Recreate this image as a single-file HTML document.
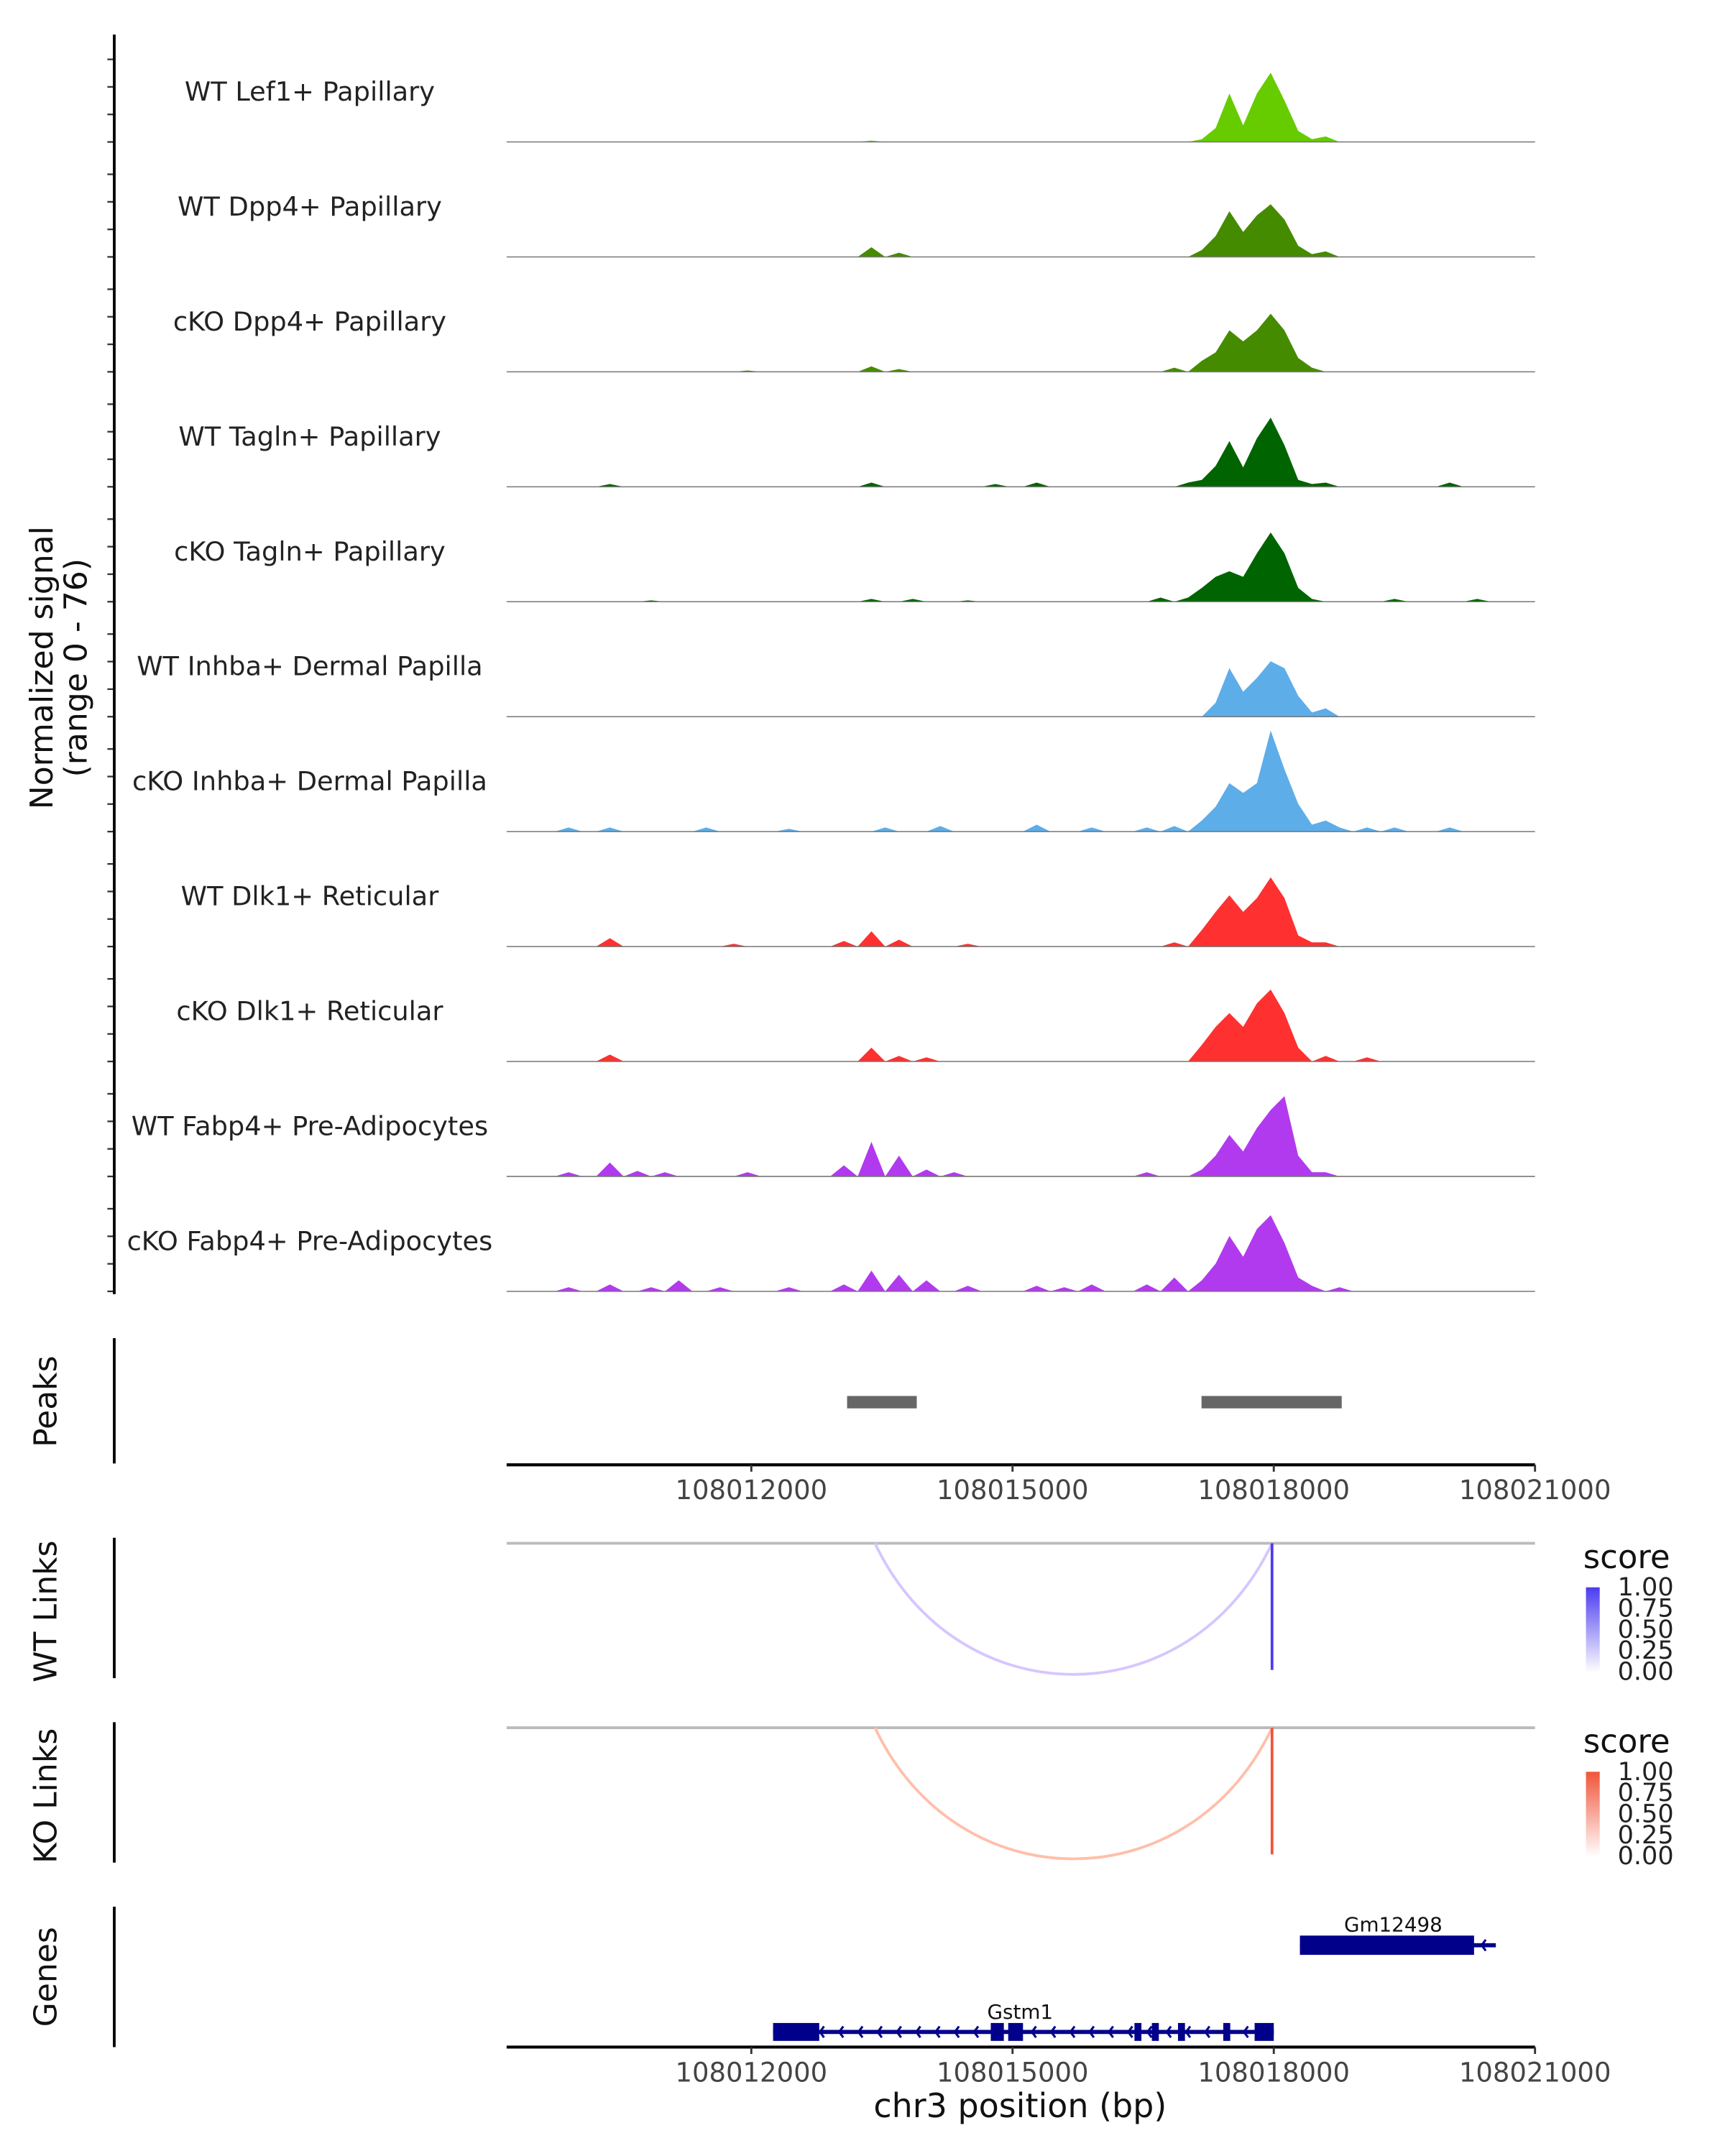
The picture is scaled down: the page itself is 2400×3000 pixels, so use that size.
<!DOCTYPE html>
<html><head><meta charset="utf-8"><style>
html,body{margin:0;padding:0;background:#fff}
svg{display:block}
text{font-family:"DejaVu Sans","Liberation Sans",sans-serif}
</style></head><body>
<svg id="chart" width="2400" height="3000" viewBox="0 0 1253 1566" xmlns="http://www.w3.org/2000/svg">
<g id="tracks"></g>
<g id="axes"></g>
</svg>
<script>
// ---- data ----
const trackNames = ["WT Lef1+ Papillary","WT Dpp4+ Papillary","cKO Dpp4+ Papillary","WT Tagln+ Papillary","cKO Tagln+ Papillary","WT Inhba+ Dermal Papilla","cKO Inhba+ Dermal Papilla","WT Dlk1+ Reticular","cKO Dlk1+ Reticular","WT Fabp4+ Pre-Adipocytes","cKO Fabp4+ Pre-Adipocytes"];
const trackColors = ["#66cc00","#458b00","#458b00","#006400","#006400","#5dade9","#5dade9","#ff3030","#ff3030","#b23aee","#b23aee"];
// signal as [binIndex, value] pairs (bins of ~158 bp across region); unlisted bins = 0
const sigLef1WT = [[26,1],[50,2],[51,10],[52,35],[53,12],[54,35],[55,50],[56,30],[57,8],[58,2],[59,4]];
const sigDpp4WT = [[26,7],[28,3],[50,5],[51,15],[52,33],[53,18],[54,30],[55,38],[56,27],[57,8],[58,2],[59,4]];
const sigDpp4KO = [[17,1],[26,4],[28,2],[48,3],[50,8],[51,14],[52,30],[53,22],[54,30],[55,42],[56,30],[57,10],[58,3]];
const sigTaglnWT = [[7,2],[26,3],[35,2],[38,3],[49,3],[50,5],[51,15],[52,33],[53,14],[54,35],[55,50],[56,30],[57,5],[58,2],[59,3],[68,3]];
const sigTaglnKO = [[10,1],[26,2],[29,2],[33,1],[47,3],[49,3],[50,10],[51,18],[52,22],[53,18],[54,35],[55,50],[56,35],[57,10],[58,2],[64,2],[70,2]];
const sigInhbaWT = [[51,10],[52,35],[53,18],[54,28],[55,40],[56,35],[57,15],[58,3],[59,6]];
const sigInhbaKO = [[4,3],[7,3],[14,3],[20,2],[27,3],[31,4],[38,5],[42,3],[46,3],[48,4],[50,8],[51,18],[52,35],[53,28],[54,35],[55,73],[56,45],[57,20],[58,5],[59,8],[60,3],[62,3],[64,3],[68,3]];
const sigDlk1WT = [[7,6],[16,2],[24,4],[26,11],[28,5],[33,2],[48,3],[50,12],[51,25],[52,37],[53,25],[54,35],[55,50],[56,35],[57,8],[58,3],[59,3]];
const sigDlk1KO = [[7,5],[26,10],[28,4],[30,3],[50,12],[51,25],[52,35],[53,25],[54,42],[55,52],[56,35],[57,10],[59,4],[62,3]];
const sigFabp4WT = [[4,3],[7,10],[9,4],[11,3],[17,3],[24,8],[26,25],[28,15],[30,5],[32,3],[46,3],[50,5],[51,15],[52,30],[53,18],[54,35],[55,48],[56,58],[57,15],[58,3],[59,3]];
const sigFabp4KO = [[4,3],[7,5],[10,3],[12,8],[15,3],[20,3],[24,5],[26,15],[28,12],[30,8],[33,4],[38,4],[40,3],[42,5],[46,5],[48,10],[50,8],[51,20],[52,40],[53,25],[54,45],[55,55],[56,35],[57,10],[58,4],[60,3]];
const signals = [sigLef1WT,sigDpp4WT,sigDpp4KO,sigTaglnWT,sigTaglnKO,sigInhbaWT,sigInhbaKO,sigDlk1WT,sigDlk1KO,sigFabp4WT,sigFabp4KO];
const peakStarts = [108013100, 108017170];
const peakEnds = [108013900, 108018780];
const xTicks = [108012000,108015000,108018000,108021000];
const linkStart = 108013420, linkEnd = 108017980;
const wtLinkScore = 0.25, koLinkScore = 0.3;
const gstm1Exons = [[108012250,108012780],[108014750,108014900],[108014950,108015120],[108016400,108016480],[108016600,108016680],[108016900,108016980],[108017420,108017500],[108017780,108018000]];
const gstm1Range = [108012250,108018000];
const gmRange = [108018300,108020550];
const gmExon = [108018300,108020300];
// ---- scales ----
const X0=368, X1=1115, BP0=108009190, BP1=108021000, NB=75;
const xs = bp => X0 + (bp-BP0)/(BP1-BP0)*(X1-X0);
const xb = i => X0 + 5 + i*10;
const YMAX = 83, TH = 83.5, TOP = 103;
const NS="http://www.w3.org/2000/svg";
function el(tag, attrs, parent, txt){const e=document.createElementNS(NS,tag);for(const k in attrs)e.setAttribute(k,attrs[k]);if(txt!=null)e.textContent=txt;parent.appendChild(e);return e;}
const svg=document.getElementById('chart');
const tracks=document.getElementById('tracks');
const axes=document.getElementById('axes');
signals.forEach((sig,t)=>{
  const base = TOP + t*TH;
  const ys = v => base - v/YMAX*TH;
  const vals=new Array(NB).fill(0);
  sig.forEach(([i,v])=>vals[i]=v);
  let d=`M${X0},${base}`;
  for(let i=0;i<NB;i++) d+=` L${xb(i)},${ys(vals[i])}`;
  d+=` L${X1},${base} Z`;
  const p=el('path',{d:d,fill:trackColors[t]},tracks);
  
  
  const bl=el('line',{x1:X0,x2:X1,y1:base,y2:base,stroke:'#777','stroke-width':0.8},tracks);
  
  
  const lb=el('text',{x:225,y:base-30,'text-anchor':'middle','font-size':19.2,fill:'#222'},tracks,trackNames[t]);
  
  
  for(let k=0;k<4;k++){
    const tk=el('line',{x1:78,x2:83,y1:base-k*20,y2:base-k*20,stroke:'#333','stroke-width':1.2},axes);
    
    
  }
});
function vline(x,y1,y2,name){const l=el('line',{x1:x,x2:x,y1:y1,y2:y2,stroke:'#000','stroke-width':2},axes);}
function rlabel(txt,x,y,name){const t=el('text',{x:x,y:y,'text-anchor':'middle','font-size':23,fill:'#111',transform:`rotate(-90 ${x} ${y})`},axes,txt);return t;}
vline(83,25,940,'signal-y-axis');
const yt=el('text',{x:0,y:0,'text-anchor':'middle','font-size':23,fill:'#111',transform:'translate(42 485) rotate(-90)'},axes);


el('tspan',{x:0,dy:-4},yt,'Normalized signal');
el('tspan',{x:0,dy:25},yt,'(range 0 - 76)');
// peaks
vline(83,972,1063,'peaks-axis');
rlabel('Peaks',41,1018,'peaks-label');
peakStarts.forEach((s,i)=>{const r=el('rect',{x:xs(s),y:1014,width:xs(peakEnds[i])-xs(s),height:9,fill:'#666'},axes);});
function xaxis(y,name){
  const l=el('line',{x1:X0,x2:X1,y1:y,y2:y,stroke:'#000','stroke-width':2.2},axes);
  xTicks.forEach(v=>{const t=el('line',{x1:xs(v),x2:xs(v),y1:y,y2:y+5,stroke:'#333','stroke-width':1.5},axes);
  const tl=el('text',{x:xs(v),y:y+25,'text-anchor':'middle','font-size':19.3,fill:'#444'},axes,String(v));});
}
xaxis(1064,'peaks-x-axis');
// links
function links(top,bottom,label,colorLo,colorHi,score,name,legTop){
  vline(83,top-4,bottom+3,name+'-axis');
  rlabel(label,41,(top+bottom)/2+2,name+'-label');
  const g=el('line',{x1:X0,x2:X1,y1:top,y2:top,stroke:'#bbb','stroke-width':2},axes);
  const a=xs(linkStart),b=xs(linkEnd);
  const arc=el('path',{d:`M${a},${top} C${a+60},${top+127} ${b-60},${top+127} ${b},${top}`,fill:'none',stroke:colorLo,'stroke-width':2},axes);
  
  const v=el('line',{x1:b,x2:b,y1:top,y2:bottom-3,stroke:colorHi,'stroke-width':2},axes);
  const st=el('text',{x:1150,y:legTop,'font-size':23.5,fill:'#111'},axes,'score');
  const gid='g'+name;
  const defs=el('defs',{},svg);const lg=el('linearGradient',{id:gid,x1:0,y1:1,x2:0,y2:0},defs);
  el('stop',{offset:0,'stop-color':'#fff'},lg);el('stop',{offset:1,'stop-color':colorHi},lg);
  const cb=el('rect',{x:1152,y:legTop+14,width:10,height:62,fill:`url(#${gid})`},axes);
  ['1.00','0.75','0.50','0.25','0.00'].forEach((s,i)=>{const t=el('text',{x:1175,y:legTop+20+i*15.3,'font-size':18.3,fill:'#222'},axes,s);});
}
links(1121,1216,'WT Links','#d6c6ff','#4b3cf0',wtLinkScore,'wt-links',1139);
links(1255,1350,'KO Links','#ffbfaa','#f0553a',koLinkScore,'ko-links',1273);
// genes
vline(83,1385,1487,'genes-axis');
rlabel('Genes',41,1436,'genes-label');
const gc='#00008b';
function gene(range,exons,y,h,name,label,lx){
  const l=el('line',{x1:xs(range[0]),x2:xs(range[1]),y1:y,y2:y,stroke:gc,'stroke-width':3},axes);
  for(let x=xs(range[0])+20;x<xs(range[1])-5;x+=14){const c=el('path',{d:`M${x+3},${y-4} L${x},${y} L${x+3},${y+4}`,fill:'none',stroke:gc,'stroke-width':1.6},axes);}
  exons.forEach(e=>{const r=el('rect',{x:xs(e[0]),y:y-h/2,width:xs(e[1])-xs(e[0]),height:h,fill:gc},axes);});
  const t=el('text',{x:lx,y:y-h/2-3,'text-anchor':'middle','font-size':14.5,fill:'#111'},axes,label);
}
gene(gstm1Range,gstm1Exons,1476,13,'gstm1','Gstm1',741);
gene(gmRange,[gmExon],1413,14,'gm12498','Gm12498',1012);
xaxis(1487,'genes-x-axis');
const xt=el('text',{x:741,y:1538,'text-anchor':'middle','font-size':24,fill:'#111'},axes,'chr3 position (bp)');


</script>
</body></html>
